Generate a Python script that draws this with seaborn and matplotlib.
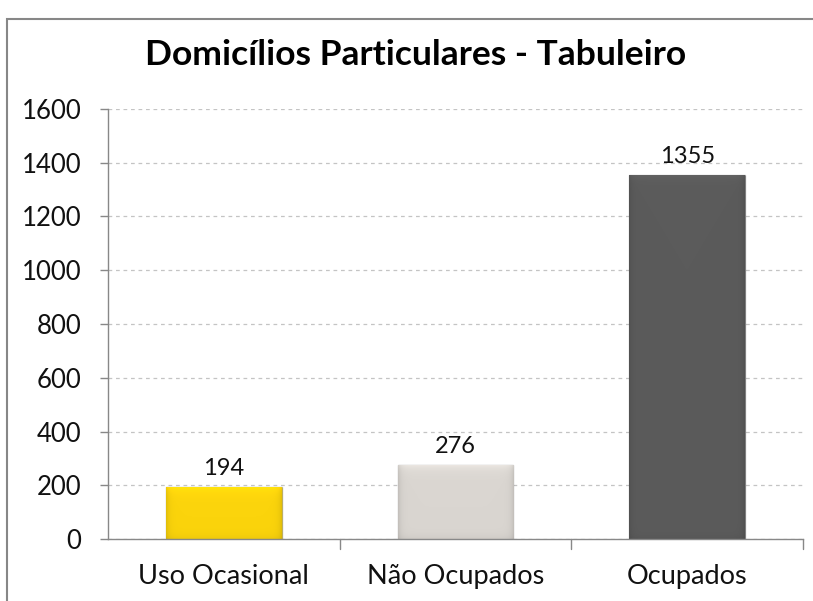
import matplotlib
matplotlib.use("Agg")
import matplotlib.pyplot as plt
import numpy as np
import pandas as pd
import seaborn as sns
from matplotlib.colors import to_rgb
from matplotlib.patches import Rectangle

categories = ["Uso Ocasional", "Não Ocupados", "Ocupados"]
values = [194, 276, 1355]
bar_colors = ["#FBD40C", "#DAD6D1", "#5B5B5B"]
yticks = [0, 200, 400, 600, 800, 1000, 1200, 1400, 1600]

df = pd.DataFrame({"categoria": categories, "domicilios": values})

sns.set_theme(style="white")
plt.rcParams["font.family"] = ["Lato", "DejaVu Sans"]

W, H = 813, 601
fig = plt.figure(figsize=(W / 100, H / 100), dpi=100)
ax = fig.add_axes([108 / W, 1 - 539 / H, (803 - 108) / W, (539 - 109) / H])

sns.barplot(data=df, x="categoria", y="domicilios", hue="categoria",
            palette=bar_colors, saturation=1, width=0.5, legend=False, ax=ax,
            edgecolor="#00000040", linewidth=1.0)

# soft bevel: shade each bar with a gradient clipped to its outline
px_per_unit = 430 / 1600
for bar, c in zip(ax.patches, bar_colors):
    base = np.array(to_rgb(c))
    x0, w, h = bar.get_x(), bar.get_width(), bar.get_height()
    nx = 116
    ny = max(int(h * px_per_unit), 2)
    dx = np.minimum(np.arange(nx), nx - 1 - np.arange(nx))  # px from side
    dy = np.arange(ny)[:, None]  # px from top
    shade_x = 1 - 0.10 * np.exp(-dx / 3.0)
    shade_y = 1 + 0.09 * np.exp(-dy / 5.0) - 0.05 * np.exp(-(ny - 1 - dy) / 4.0)
    img = np.clip(base[None, None, :] * (shade_x[None, :] * shade_y)[:, :, None], 0, 1)
    im = ax.imshow(img, extent=[x0, x0 + w, 0, h], aspect="auto", zorder=bar.get_zorder() + 0.1,
                   interpolation="bilinear")
    im.set_clip_path(bar)

for bar, v in zip(ax.patches, values):
    ax.text(bar.get_x() + bar.get_width() / 2, v + 45, str(v),
            ha="center", va="baseline", fontsize=17, color="#111111")

ax.set_ylim(0, 1600)
ax.set_yticks(yticks)
ax.set_yticklabels([str(t) for t in yticks], fontsize=18.5, color="#111111")
ax.set_xlim(-0.5, 2.5)
ax.set_xlabel("")
ax.set_ylabel("")
ax.tick_params(axis="x", labelsize=19.5, labelcolor="#111111", pad=18, length=0)
ax.tick_params(axis="y", length=6, width=1, color="#888888", direction="out", left=True, pad=13)
ax.yaxis.grid(True, linestyle=(0, (3, 3)), color="#C4C4C4", linewidth=0.9)
ax.set_axisbelow(True)
for s in ["top", "right"]:
    ax.spines[s].set_visible(False)
for s in ["left", "bottom"]:
    ax.spines[s].set_color("#888888")
    ax.spines[s].set_linewidth(1)

# short separators below the axis between categories
for xs in [0.5, 1.5, 2.5]:
    ax.plot([xs, xs], [0, -38], color="#888888", linewidth=1, clip_on=False)

fig.text(416 / W, 1 - 65 / H, "Domicílios Particulares - Tabuleiro",
         ha="center", va="baseline", fontsize=25.5, fontweight="bold", color="#000000")

fig.patches.append(Rectangle((7 / W, -0.01), 1.0, 1 - 19 / H + 0.01,
                             transform=fig.transFigure, fill=False,
                             edgecolor="#878787", linewidth=1.5))

fig.savefig("out.png", dpi=100)
